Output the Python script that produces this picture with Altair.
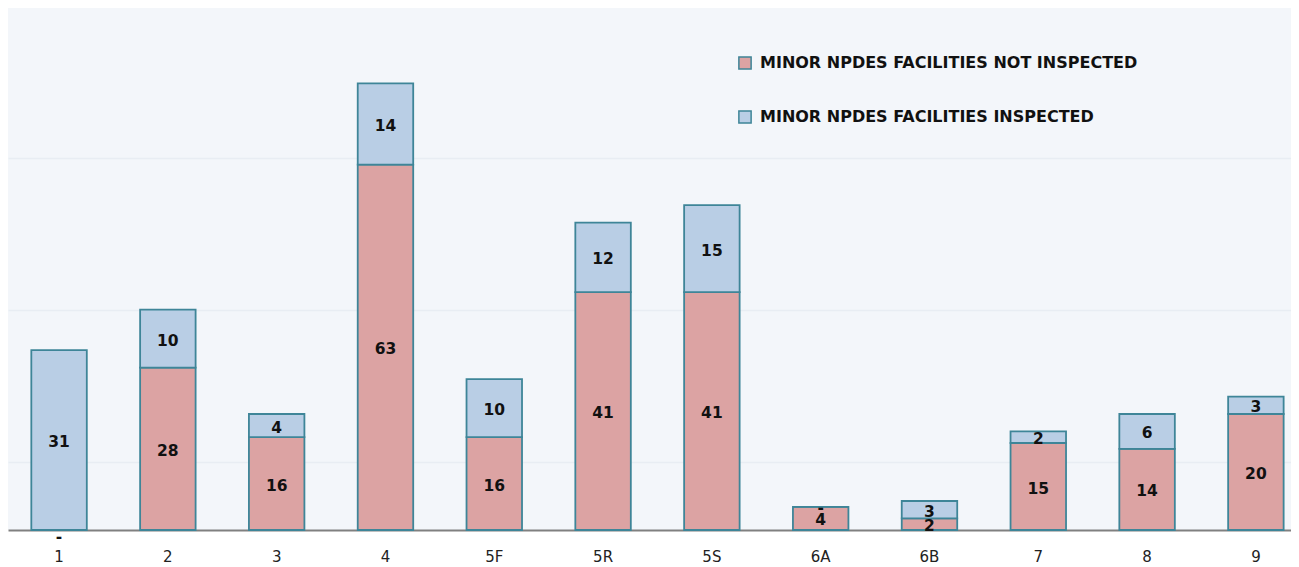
import altair as alt
import pandas as pd

categories = ["1", "2", "3", "4", "5F", "5R", "5S", "6A", "6B", "7", "8", "9"]
not_inspected = [0, 28, 16, 63, 16, 41, 41, 4, 2, 15, 14, 20]
inspected = [31, 10, 4, 14, 10, 12, 15, 0, 3, 2, 6, 3]

S_NOT = "MINOR NPDES FACILITIES NOT INSPECTED"
S_INS = "MINOR NPDES FACILITIES INSPECTED"

rows = []
for c, a, b in zip(categories, not_inspected, inspected):
    rows.append({"cat": c, "series": S_NOT, "value": a, "ord": 0,
                 "label": str(a) if a else "-"})
    rows.append({"cat": c, "series": S_INS, "value": b, "ord": 1,
                 "label": str(b) if b else "-"})
df = pd.DataFrame(rows)

xenc = alt.X("cat:N", sort=categories, title=None,
             scale=alt.Scale(paddingInner=0.49, paddingOuter=0.141, align=0.76),
             axis=alt.Axis(labelAngle=0, ticks=False, labelPadding=19,
                           labelFont="DejaVu Sans", labelFontSize=15,
                           labelColor="#222222", domainColor="#808080",
                           domainWidth=2, grid=False))

yscale = alt.Scale(domain=[0, 90], nice=False, zero=True)

base = alt.Chart(df).transform_stack(
    stack="value", groupby=["cat"], as_=["v0", "v1"],
    sort=[alt.SortField("ord", order="ascending")]
).transform_calculate(mid="(datum.v0 + datum.v1) / 2")

bars = base.mark_bar(stroke="#3E8598", strokeWidth=1.8).encode(
    x=xenc,
    y=alt.Y("v0:Q", scale=yscale, title=None,
            axis=alt.Axis(values=[11.7, 37.9, 64.1], labels=False, ticks=False,
                          domain=False, grid=True, gridColor="#E8EDF3",
                          gridWidth=1.5)),
    y2="v1:Q",
    color=alt.Color("series:N",
                    scale=alt.Scale(domain=[S_NOT, S_INS],
                                    range=["#DCA3A3", "#B9CEE5"]),
                    legend=alt.Legend(title=None, orient="none",
                                      legendX=729, legendY=47,
                                      symbolType="square", symbolSize=150,
                                      symbolStrokeColor="#3E8598",
                                      symbolStrokeWidth=1.5,
                                      labelFont="DejaVu Sans",
                                      labelFontSize=16, labelFontWeight="bold",
                                      labelColor="#111111", rowPadding=34,
                                      labelOffset=7,
                                      labelLimit=600, symbolOpacity=1)),
    order=alt.Order("ord:Q"),
)

text_style = dict(font="DejaVu Sans", fontSize=15.5, fontWeight="bold",
                  color="#111111", baseline="middle")

labels = base.transform_filter("datum.value > 0").mark_text(dy=2, **text_style).encode(
    x=alt.X("cat:N", sort=categories),
    y=alt.Y("mid:Q", scale=yscale),
    text="label:N",
)

zero_bottom = base.transform_filter("datum.value == 0 && datum.ord == 0").mark_text(
    dy=7, **text_style).encode(
    x=alt.X("cat:N", sort=categories),
    y=alt.Y("mid:Q", scale=yscale),
    text="label:N",
)

zero_top = base.transform_filter("datum.value == 0 && datum.ord == 1").mark_text(
    dy=1, **text_style).encode(
    x=alt.X("cat:N", sort=categories),
    y=alt.Y("mid:Q", scale=yscale),
    text="label:N",
)

chart = (bars + labels + zero_bottom + zero_top).properties(
    width=1283, height=522, padding=0, background="white"
).configure_view(fill="#F3F6FA", stroke=None)

chart.save("out.html", embed_options={"renderer": "svg", "actions": False})
